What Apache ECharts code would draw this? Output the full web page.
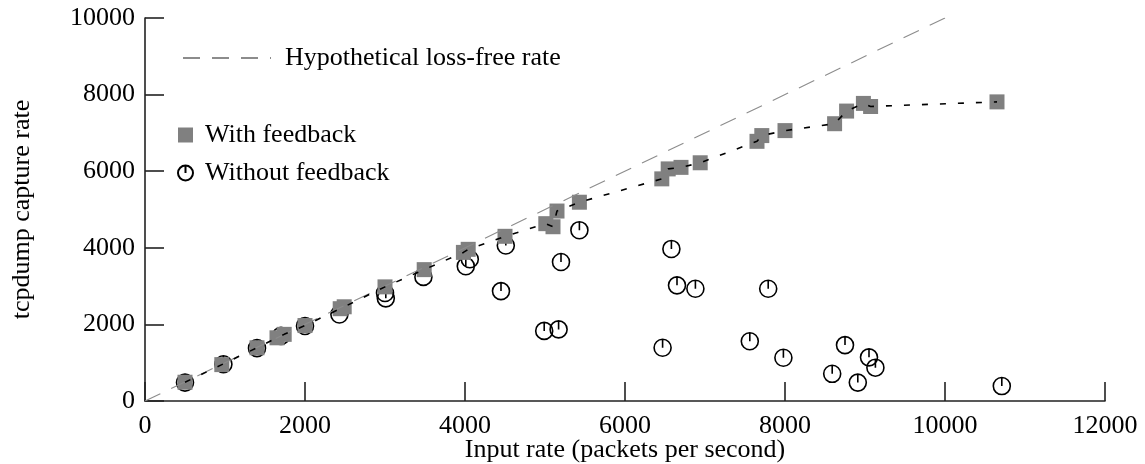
<!DOCTYPE html>
<html>
<head>
<meta charset="utf-8">
<script src="https://cdn.jsdelivr.net/npm/echarts@6/dist/echarts.min.js"></script>
<style>
  html, body { margin: 0; padding: 0; background: #fff; }
  #chart { width: 1145px; height: 464px; }
</style>
</head>
<body>
<div id="chart"></div>
<script>
// Input rate (packets/s) vs. tcpdump capture rate
const lossFreeLine = [[0, 0], [10000, 10000]];

const withFeedback = [
  [500, 490], [960, 950], [1400, 1390], [1650, 1650], [1740, 1740],
  [2000, 1970], [2440, 2410], [2490, 2460], [3000, 2980], [3490, 3430],
  [3980, 3880], [4040, 3960], [4500, 4300], [5010, 4630], [5100, 4550],
  [5150, 4960], [5430, 5190], [6460, 5800], [6540, 6060], [6700, 6100],
  [6940, 6220], [7650, 6780], [7710, 6930], [8000, 7060], [8620, 7240],
  [8770, 7570], [8980, 7770], [9070, 7690], [10650, 7810]
];

const withoutFeedback = [
  [500, 480], [980, 960], [1400, 1380], [1700, 1700], [2000, 1960],
  [2430, 2260], [3000, 2820], [3010, 2680], [3480, 3240], [4010, 3520],
  [4060, 3700], [4450, 2870], [4510, 4060], [4990, 1830], [5170, 1870],
  [5200, 3630], [5430, 4460], [6470, 1390], [6580, 3970], [6650, 3020],
  [6880, 2930], [7560, 1560], [7790, 2930], [7980, 1130], [8590, 710],
  [8750, 1460], [8910, 480], [9050, 1140], [9130, 870], [10710, 390]
];

const xTicks = [0, 2000, 4000, 6000, 8000, 10000, 12000];
const yTicks = [0, 2000, 4000, 6000, 8000, 10000];

const serif = '"Liberation Serif", "DejaVu Serif", serif';
const FS = 26;
// open circle with a stroke from the centre up to the rim
const clockSymbol = 'path://M10,0 A10,10 0 1,1 10,20 A10,10 0 1,1 10,0 Z M10,0 L10,10';

const chart = echarts.init(document.getElementById('chart'), null, { renderer: 'canvas' });

const axisCommon = {
  type: 'value',
  axisLine: { show: true, lineStyle: { color: '#222', width: 1.6 } },
  axisTick: { show: true, inside: true, length: 19, lineStyle: { color: '#222', width: 1.6 } },
  splitLine: { show: false },
  nameLocation: 'middle',
  nameMoveOverlap: false,
  nameTextStyle: { fontFamily: serif, fontSize: FS, color: '#000' },
  axisLabel: { fontFamily: serif, fontSize: FS, color: '#000', formatter: v => String(v) }
};

chart.setOption({
  animation: false,
  backgroundColor: '#fff',
  grid: { left: 145, right: 40, top: 18, bottom: 63, containLabel: false, outerBoundsMode: 'none' },
  xAxis: Object.assign({}, axisCommon, {
    min: xTicks[0], max: xTicks[xTicks.length - 1], interval: 2000,
    name: 'Input rate (packets per second)', nameGap: 36,
    axisLabel: Object.assign({}, axisCommon.axisLabel, { margin: 12 })
  }),
  yAxis: Object.assign({}, axisCommon, {
    min: yTicks[0], max: yTicks[yTicks.length - 1], interval: 2000,
    name: 'tcpdump capture rate', nameGap: 110,
    axisLabel: Object.assign({}, axisCommon.axisLabel, { margin: 10 })
  }),
  legend: [
    {
      data: ['Hypothetical loss-free rate'],
      left: 177, top: 40, orient: 'vertical',
      itemWidth: 88, itemHeight: 14, itemGap: 20,
      itemStyle: { opacity: 0 },
      textStyle: { fontFamily: serif, fontSize: FS, color: '#000', padding: [0, 0, 0, 9] }
    },
    {
      data: ['With feedback', 'Without feedback'],
      left: 172, top: 117, orient: 'vertical',
      itemWidth: 15, itemHeight: 15, itemGap: 12,
      textStyle: { fontFamily: serif, fontSize: FS, color: '#000', lineHeight: 26, padding: [0, 0, 0, 7] }
    }
  ],
  series: [
    {
      name: 'Hypothetical loss-free rate',
      type: 'line',
      data: lossFreeLine,
      symbol: 'none',
      lineStyle: { color: '#8c8c8c', width: 1.1, type: [17, 12] },
      z: 4
    },
    {
      name: 'Without feedback',
      type: 'scatter',
      data: withoutFeedback,
      symbol: clockSymbol,
      symbolSize: 17,
      itemStyle: { color: 'rgba(0,0,0,0)', borderColor: '#000', borderWidth: 1.6, opacity: 1 },
      z: 2
    },
    {
      name: 'With feedback',
      type: 'scatter',
      data: withFeedback,
      symbol: 'rect',
      symbolSize: 15,
      itemStyle: { color: '#808080', opacity: 1 },
      z: 3
    },
    {
      name: 'feedback trend',
      type: 'line',
      data: withFeedback,
      symbol: 'none',
      lineStyle: { color: '#000', width: 1.6, type: [6, 12] },
      z: 5
    }
  ]
});
</script>
</body>
</html>
